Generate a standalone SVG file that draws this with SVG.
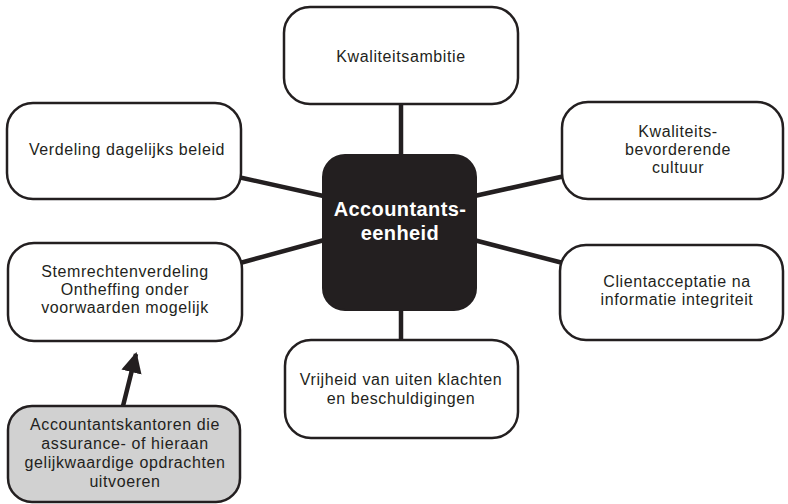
<svg xmlns="http://www.w3.org/2000/svg" width="788" height="504" viewBox="0 0 788 504">
<defs>
<style>
.box{fill:#fff;stroke:#231f20;stroke-width:2.5}
.gray{fill:#d1d1d1;stroke:#231f20;stroke-width:2.5}
.center{fill:#231f20;stroke:#231f20;stroke-width:2}
.conn{stroke:#231f20;stroke-width:4.5;fill:none}
.t{font-family:"Liberation Sans",Arial,sans-serif;font-size:16px;letter-spacing:0.6px;fill:#231f20;text-anchor:middle}
.ct{font-family:"Liberation Sans",Arial,sans-serif;font-size:20px;font-weight:bold;letter-spacing:0.4px;fill:#fff;text-anchor:middle}
</style>
<marker id="arrow" viewBox="0 0 10 10" refX="9" refY="5" markerWidth="4.6" markerHeight="4.6" orient="auto" markerUnits="strokeWidth">
<path d="M0,0 L10,5 L0,10 z" fill="#231f20"/>
</marker>
</defs>
<rect width="788" height="504" fill="#fff"/>
<g id="connectors">
<line class="conn" x1="401" y1="104" x2="401" y2="160"/>
<line class="conn" x1="401" y1="305" x2="401" y2="341"/>
<line class="conn" x1="238" y1="177" x2="328" y2="197"/>
<line class="conn" x1="240" y1="263" x2="328" y2="239"/>
<line class="conn" x1="470" y1="197" x2="565" y2="176"/>
<line class="conn" x1="470" y1="239" x2="563" y2="263"/>
<line class="conn" x1="123" y1="406" x2="136" y2="354" marker-end="url(#arrow)"/>
</g>
<g id="node-center">
<rect class="center" x="323" y="155" width="153" height="155" rx="22"/>
<text class="ct" x="400" y="216">Accountants-</text>
<text class="ct" x="400" y="240">eenheid</text>
</g>
<g id="node-kwaliteitsambitie">
<rect class="box" x="284" y="7" width="234" height="97" rx="26"/>
<text class="t" x="401" y="62">Kwaliteitsambitie</text>
</g>
<g id="node-verdeling">
<rect class="box" x="7" y="103" width="234" height="96" rx="26"/>
<text class="t" x="127" y="155">Verdeling dagelijks beleid</text>
</g>
<g id="node-cultuur">
<rect class="box" x="562" y="102" width="221" height="97" rx="26"/>
<text class="t" x="678" y="137">Kwaliteits-</text>
<text class="t" x="678" y="155">bevorderende</text>
<text class="t" x="678" y="173">cultuur</text>
</g>
<g id="node-stemrechten">
<rect class="box" x="8" y="243" width="234" height="98" rx="26"/>
<text class="t" x="125" y="277">Stemrechtenverdeling</text>
<text class="t" x="125" y="295">Ontheffing onder</text>
<text class="t" x="125" y="313">voorwaarden mogelijk</text>
</g>
<g id="node-clientacceptatie">
<rect class="box" x="560" y="245" width="223" height="95" rx="26"/>
<text class="t" x="677" y="287">Clientacceptatie na</text>
<text class="t" x="677" y="305">informatie integriteit</text>
</g>
<g id="node-vrijheid">
<rect class="box" x="285" y="340" width="233" height="98" rx="26"/>
<text class="t" x="401" y="385">Vrijheid van uiten klachten</text>
<text class="t" x="401" y="404">en beschuldigingen</text>
</g>
<g id="node-kantoren">
<rect class="gray" x="8" y="406" width="232" height="96" rx="24"/>
<text class="t" x="125" y="430">Accountantskantoren die</text>
<text class="t" x="125" y="449">assurance- of hieraan</text>
<text class="t" x="125" y="468">gelijkwaardige opdrachten</text>
<text class="t" x="125" y="487">uitvoeren</text>
</g>
</svg>
